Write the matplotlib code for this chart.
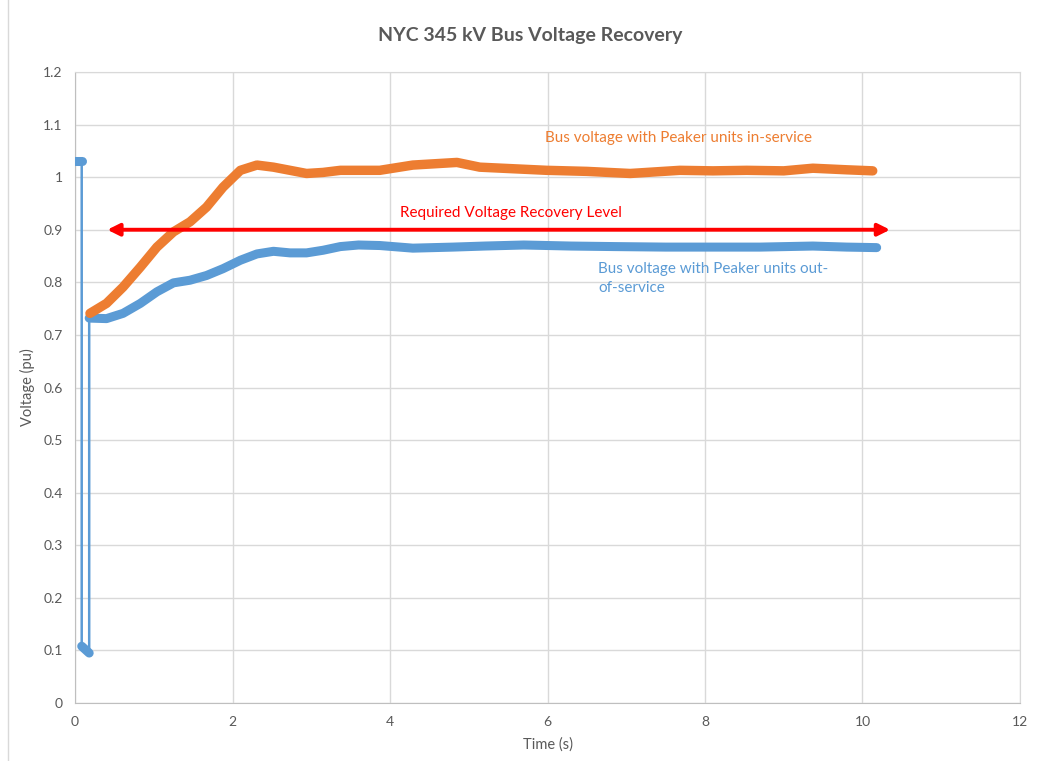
import matplotlib
matplotlib.use("Agg")
import matplotlib.pyplot as plt
from matplotlib.lines import Line2D

# blue series: Peaker units out-of-service
blue_pre_t = [0.0, 0.085]
blue_pre_v = [1.03, 1.03]
blue_fault_t = [0.085, 0.18]
blue_fault_v = [0.108, 0.095]
blue_t = [0.18, 0.40, 0.61, 0.83, 1.04, 1.25, 1.46, 1.67, 1.88, 2.10, 2.31,
          2.52, 2.73, 2.94, 3.15, 3.37, 3.60, 3.87, 4.29, 4.80, 5.20, 5.70,
          6.30, 6.84, 7.50, 8.10, 8.70, 9.37, 9.80, 10.18]
blue_v = [0.732, 0.731, 0.741, 0.760, 0.782, 0.799, 0.804, 0.813, 0.826,
          0.842, 0.854, 0.859, 0.856, 0.856, 0.861, 0.868, 0.871, 0.870,
          0.865, 0.867, 0.869, 0.871, 0.869, 0.868, 0.867, 0.867, 0.867,
          0.869, 0.867, 0.866]

# orange series: Peaker units in-service
orange_t = [0.19, 0.40, 0.61, 0.83, 1.04, 1.25, 1.46, 1.67, 1.88, 2.10,
            2.31, 2.52, 2.73, 2.94, 3.15, 3.37, 3.87, 4.29, 4.85, 5.14,
            5.99, 6.50, 7.05, 7.68, 8.10, 8.53, 9.00, 9.37, 9.80, 10.13]
orange_v = [0.741, 0.760, 0.791, 0.829, 0.867, 0.896, 0.915, 0.943, 0.981,
            1.013, 1.023, 1.019, 1.013, 1.007, 1.009, 1.013, 1.013, 1.023,
            1.028, 1.019, 1.013, 1.011, 1.007, 1.013, 1.012, 1.013, 1.012,
            1.017, 1.014, 1.012]

req_level = 0.9
req_span = [0.41, 10.35]

BLUE = "#5B9BD5"
ORANGE = "#ED7D31"
GRAY = "#595959"

plt.rcParams["font.family"] = ["Lato", "DejaVu Sans"]

fig = plt.figure(figsize=(10.39, 7.61), dpi=100)
ax = fig.add_axes([0.0722, 0.0762, 0.9095, 0.8292])

# blue: thin connecting line through all points, thick where data is dense
all_bt = blue_pre_t + blue_fault_t + blue_t
all_bv = blue_pre_v + blue_fault_v + blue_v
ax.plot(all_bt, all_bv, color=BLUE, lw=1.8, zorder=3)
for tt, vv in [(blue_pre_t, blue_pre_v), (blue_fault_t, blue_fault_v), (blue_t, blue_v)]:
    ax.plot(tt, vv, color=BLUE, lw=6.5, solid_capstyle="round",
            solid_joinstyle="round", zorder=4)

ax.plot(orange_t, orange_v, color=ORANGE, lw=6.8, solid_capstyle="round",
        solid_joinstyle="round", zorder=5)

ax.annotate("", xy=(req_span[0], req_level), xytext=(req_span[1], req_level),
            arrowprops=dict(arrowstyle="<|-|>", color="#FF0000", lw=2.8,
                            mutation_scale=18, shrinkA=0, shrinkB=0),
            zorder=6)

ax.text(5.97, 1.074, "Bus voltage with Peaker units in-service",
        color=ORANGE, fontsize=11, va="center")
ax.text(4.13, 0.932, "Required Voltage Recovery Level",
        color="#FF0000", fontsize=11, va="center")
ax.text(6.64, 0.807, "Bus voltage with Peaker units out-\nof-service",
        color=BLUE, fontsize=11, va="center", linespacing=1.45)

ax.set_xlim(0, 12)
ax.set_ylim(0, 1.2)
ax.set_xticks(range(0, 13, 2))
ax.set_yticks([i / 10 for i in range(13)])
ax.set_yticklabels(["0", "0.1", "0.2", "0.3", "0.4", "0.5", "0.6", "0.7",
                    "0.8", "0.9", "1", "1.1", "1.2"])
ax.grid(True, color="#D9D9D9", lw=1)
ax.set_axisbelow(True)
for s in ax.spines.values():
    s.set_color("#D9D9D9")
ax.spines["left"].set_color("#BFBFBF")
ax.spines["bottom"].set_color("#BFBFBF")
ax.tick_params(length=0, labelsize=10, colors=GRAY, pad=9)

ax.set_xlabel("Time (s)", fontsize=10.5, color=GRAY, labelpad=7)
ax.set_ylabel("Voltage (pu)", fontsize=10.5, color=GRAY, labelpad=6)
fig.suptitle("NYC 345 kV Bus Voltage Recovery", x=0.51, y=0.965,
             fontsize=14, fontweight="bold", color=GRAY)

fig.add_artist(Line2D([8 / 1039, 8 / 1039], [0, 1], color="#D9D9D9", lw=1,
                      transform=fig.transFigure))

fig.savefig("out.png", dpi=100)
